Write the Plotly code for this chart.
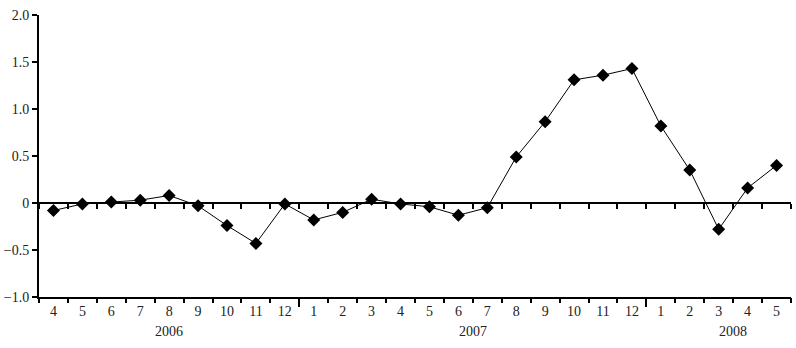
import plotly.graph_objects as go

months = ["4","5","6","7","8","9","10","11","12",
          "1","2","3","4","5","6","7","8","9","10","11","12",
          "1","2","3","4","5"]
years = ["2006", "2007", "2008"]
year_counts = [9, 12, 5]
values = [-0.08, -0.01, 0.01, 0.03, 0.08, -0.03, -0.24, -0.43, -0.01,
          -0.18, -0.10, 0.04, -0.01, -0.04, -0.13, -0.05, 0.49, 0.865, 1.31, 1.36, 1.43,
          0.82, 0.35, -0.28, 0.16, 0.40]
y_ticks = [-1.0, -0.5, 0, 0.5, 1.0, 1.5, 2.0]
y_ticktext = ["\u22121.0", "\u22120.5", "0", "0.5", "1.0", "1.5", "2.0"]

idx = list(range(len(months)))
n = len(months)
boundaries = [i - 0.5 for i in range(n + 1)]
year_bounds = []
s = 0
year_centers = []
for c in year_counts:
    year_centers.append(s + (c - 1) / 2)
    s += c
    year_bounds.append(s - 0.5)
year_centers[-1] += 0.5
year_bounds = year_bounds[:-1]

FONT = "Liberation Serif"
FS = 14
xr = [-0.5, n - 0.5]

fig = go.Figure()
fig.add_trace(go.Scatter(
    x=idx, y=values, mode="lines+markers",
    line=dict(color="black", width=1),
    marker=dict(symbol="diamond", size=10, color="black"),
    showlegend=False, xaxis="x", yaxis="y"))

common = dict(range=xr, overlaying="x", anchor="free", side="bottom",
              tickmode="array", showticklabels=False, showgrid=False,
              zeroline=False, automargin=False, tickcolor="black", tickwidth=2)

fig.update_layout(
    width=796, height=348,
    margin=dict(l=39, r=5, t=15, b=51),
    plot_bgcolor="white", paper_bgcolor="white",
    font=dict(family=FONT, size=FS, color="#222"),
    xaxis=dict(range=xr, tickmode="array", tickvals=idx, ticktext=months,
               ticks="", showgrid=False, zeroline=False, automargin=False,
               showline=True, linecolor="black", linewidth=2, ticklabelstandoff=0,
               tickfont=dict(family=FONT, size=FS, color="#222")),
    xaxis2=dict(position=0, tickvals=boundaries, ticks="outside", ticklen=5,
                showline=False, **common),
    xaxis3=dict(position=0, tickvals=year_bounds, ticks="outside", ticklen=9,
                showline=False, **common),
    xaxis4=dict(position=1/3, tickvals=boundaries, ticks="outside", ticklen=5,
                showline=True, linecolor="black", linewidth=2, **common),
    yaxis=dict(range=[-1.0, 2.0], tickmode="array", tickvals=y_ticks,
               ticktext=y_ticktext, ticks="outside", ticklen=5, tickwidth=2,
               tickcolor="black", showgrid=False, zeroline=False, automargin=False,
               showline=True, linecolor="black", linewidth=2,
               tickfont=dict(family=FONT, size=FS, color="#222")),
)

for ax in ["x2", "x3", "x4"]:
    fig.add_trace(go.Scatter(x=[None], y=[None], xaxis=ax, yaxis="y",
                             showlegend=False, hoverinfo="skip"))

for yr, cx in zip(years, year_centers):
    fig.add_annotation(x=cx, y=0, xref="x", yref="paper", yanchor="middle",
                       yshift=-34, text=yr, showarrow=False,
                       font=dict(family=FONT, size=FS, color="#222"))

fig.write_html("out.html", config={"displayModeBar": False},
               post_script="document.body.style.margin='0';document.body.style.overflow='hidden';")
